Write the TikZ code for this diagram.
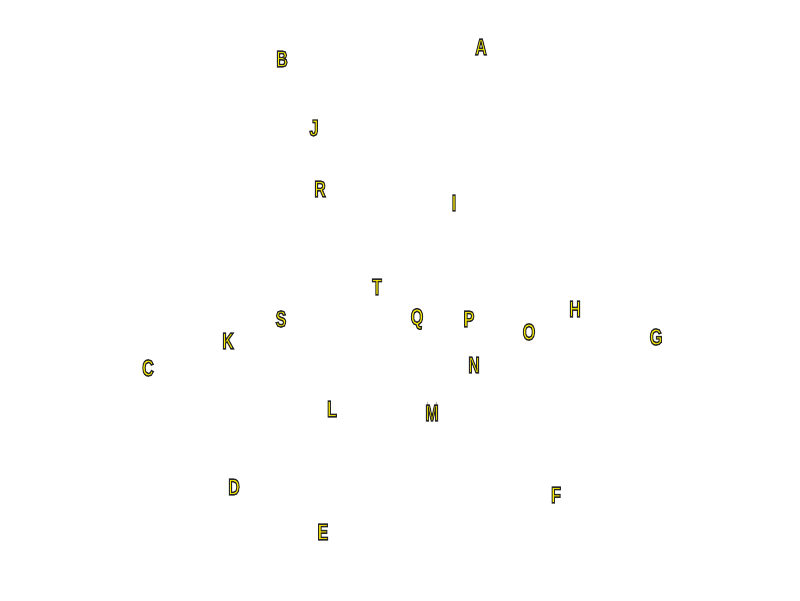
\documentclass[tikz,border=0pt]{standalone}
\usepackage{fontspec}
\setmainfont{Liberation Sans}
\definecolor{lettery}{RGB}{255,240,0}
\newcommand{\outl}[1]{\special{pdf:literal direct 0.15 0.15 0.15 RG 1.4 w 2 Tr}#1\special{pdf:literal direct 0 Tr}}
\tikzset{lbl/.style={inner sep=0pt, text=lettery, font=\fontsize{23}{23}\bfseries}}
\newcommand{\lt}[1]{\scalebox{0.7}[1]{\outl{#1}}}
\begin{document}
\begin{tikzpicture}[x=1pt,y=1pt]
\useasboundingbox (0,0) rectangle (800,600);
\node[lbl] (A) at (481,553) {\lt{A}};
\node[lbl] (B) at (282,541) {\lt{B}};
\node[lbl] (J) at (314,472) {\lt{J}};
\node[lbl] (R) at (320,411) {\lt{R}};
\node[lbl] (I) at (454,397) {\lt{I}};
\node[lbl] (T) at (377,313) {\lt{T}};
\node[lbl] (S) at (281,281) {\lt{S}};
\node[lbl] (Q) at (417,281) {\lt{Q}};
\node[lbl] (P) at (469,281) {\lt{P}};
\node[lbl] (O) at (529,268) {\lt{O}};
\node[lbl] (H) at (575,291) {\lt{H}};
\node[lbl] (G) at (656,263) {\lt{G}};
\node[lbl] (K) at (228,259) {\lt{K}};
\node[lbl] (C) at (148,232) {\lt{C}};
\node[lbl] (N) at (474,235) {\lt{N}};
\node[lbl] (L) at (332,191) {\lt{L}};
\node[lbl] (M) at (432,187) {\lt{M}};
\node[lbl] (D) at (234,113) {\lt{D}};
\node[lbl] (F) at (556,105) {\lt{F}};
\node[lbl] (E) at (323,68) {\lt{E}};
\end{tikzpicture}
\end{document}
